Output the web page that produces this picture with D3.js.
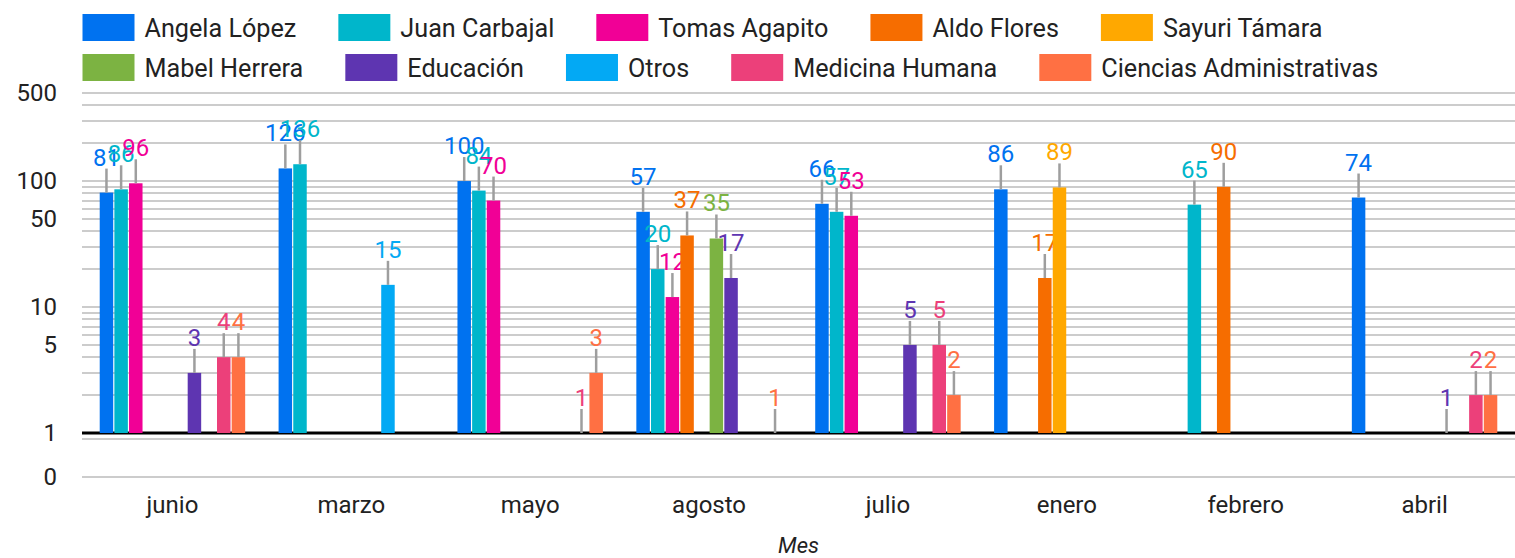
<!DOCTYPE html>
<meta charset="utf-8">
<style>
body { margin: 0; background: #fff; }
svg { font-family: Roboto, sans-serif; }
.grid line { stroke: #cccccc; stroke-width: 2; shape-rendering: crispEdges; }
.tick-label { font-size: 24px; fill: #222; }
.legend text { font-size: 25.2px; fill: #222; }
.value { font-size: 24px; text-anchor: middle; }
</style>
<body>
<svg id="chart" width="1515" height="558"></svg>
<script src="https://d3js.org/d3.v7.min.js"></script>
<script>

// categories
var meses = ["junio", "marzo", "mayo", "agosto", "julio", "enero", "febrero", "abril"];
var series = ["Angela López", "Juan Carbajal", "Tomas Agapito", "Aldo Flores", "Sayuri Támara",
              "Mabel Herrera", "Educación", "Otros", "Medicina Humana", "Ciencias Administrativas"];
var colores = ["#0072f0", "#00b6cb", "#f10096", "#f66d00", "#ffa800",
               "#7cb342", "#5e35b1", "#03a9f4", "#ec407a", "#ff7043"];

// values per series, in month order (null = no bar)
var angela    = [81, 126, 100, 57, 66, 86, null, 74];
var juan      = [86, 136, 84, 20, 57, null, 65, null];
var tomas     = [96, null, 70, 12, 53, null, null, null];
var aldo      = [null, null, null, 37, null, 17, 90, null];
var sayuri    = [null, null, null, null, null, 89, null, null];
var mabel     = [null, null, null, 35, null, null, null, null];
var educacion = [3, null, null, 17, 5, null, null, 1];
var otros     = [null, 15, null, null, null, null, null, null];
var medicina  = [4, null, 1, null, 5, null, null, 2];
var ciencias  = [4, null, 3, 1, 2, null, null, 2];

// axis ticks and gridlines
var yTicks = [500, 100, 50, 10, 5, 1, 0];
var gridValues = [500, 400, 300, 200, 100, 90, 80, 70, 60, 50, 40, 30, 20, 10,
                  9, 8, 7, 6, 5, 4, 3, 2, 0.9, 0];

var valores = [angela, juan, tomas, aldo, sayuri, mabel, educacion, otros, medicina, ciencias];

var svg = d3.select("#chart");

var left = 83, right = 1514;

var x0 = d3.scaleBand().domain(meses).range([left, right]);
var x1 = d3.scaleBand().domain(series).range([0, x0.bandwidth()])
  .paddingInner(0.08).paddingOuter(1.14);

// log scale above 1, linear segment down to 0
var yLog = d3.scaleLog().domain([1, 500]).range([433, 93]);
var yLow = d3.scaleLinear().domain([0, 1]).range([477, 433]);
var y = v => v >= 0.5 ? yLog(v) : yLow(v);

// gridlines
svg.append("g").attr("class", "grid")
  .selectAll("line")
  .data(gridValues)
  .enter().append("line")
  .attr("x1", left - 1).attr("x2", 1515)
  .attr("y1", d => y(d)).attr("y2", d => y(d));

// y tick labels
svg.append("g")
  .selectAll("text")
  .data(yTicks)
  .enter().append("text")
  .attr("class", "tick-label")
  .attr("x", 57)
  .attr("y", d => y(d))
  .attr("text-anchor", "end")
  .attr("dominant-baseline", "central")
  .text(d => d);

// baseline at 1
svg.append("line")
  .attr("x1", left - 1).attr("x2", 1515)
  .attr("y1", y(1)).attr("y2", y(1))
  .attr("stroke", "#000").attr("stroke-width", 3);

// bars, stems and value labels, one series at a time
series.forEach(function(s, i) {
  var data = meses.map((m, j) => ({mes: m, v: valores[i][j]})).filter(d => d.v != null);
  var g = svg.append("g");
  var cx = d => x0(d.mes) + x1(s) + x1.bandwidth() / 2;

  g.selectAll("rect")
    .data(data)
    .enter().append("rect")
    .attr("x", d => x0(d.mes) + x1(s))
    .attr("y", d => y(d.v))
    .attr("width", x1.bandwidth())
    .attr("height", d => y(1) - y(d.v))
    .attr("fill", colores[i]);

  g.selectAll("line")
    .data(data)
    .enter().append("line")
    .attr("x1", cx).attr("x2", cx)
    .attr("y1", d => y(d.v)).attr("y2", d => y(d.v) - 24)
    .attr("stroke", "#9e9e9e").attr("stroke-width", 2.5);

  g.selectAll("text")
    .data(data)
    .enter().append("text")
    .attr("class", "value")
    .attr("x", cx)
    .attr("y", d => y(d.v) - 27)
    .attr("fill", colores[i])
    .text(d => d.v);
});

// x labels
svg.append("g")
  .selectAll("text")
  .data(meses)
  .enter().append("text")
  .attr("class", "tick-label")
  .attr("x", d => x0(d) + x0.bandwidth() / 2)
  .attr("y", 513)
  .attr("text-anchor", "middle")
  .text(d => d);

svg.append("text")
  .attr("x", (left + right) / 2)
  .attr("y", 553)
  .attr("text-anchor", "middle")
  .style("font-size", "22px").style("font-style", "italic").style("fill", "#222")
  .text("Mes");

// legend, two rows of five
var legend = svg.append("g").attr("class", "legend");
[0, 1].forEach(function(row) {
  var xPos = 82.5;
  series.slice(row * 5, row * 5 + 5).forEach(function(s, k) {
    var i = row * 5 + k;
    legend.append("rect")
      .attr("x", xPos).attr("y", 14 + row * 40)
      .attr("width", 52).attr("height", 27)
      .attr("fill", colores[i]);
    var t = legend.append("text")
      .attr("x", xPos + 62).attr("y", 36.5 + row * 40)
      .text(s);
    xPos += 62 + t.node().getComputedTextLength() + 42;
  });
});

</script>
</body>
